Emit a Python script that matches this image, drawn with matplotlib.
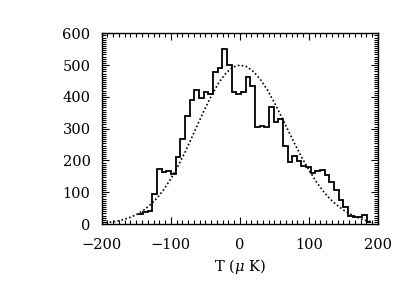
import numpy as np
import matplotlib
matplotlib.use("Agg")
import matplotlib.pyplot as plt
from matplotlib.ticker import AutoMinorLocator

# Histogram of temperatures (counts per bin)
bin_start = -147.0
bin_width = 6.75
counts = [30, 38, 42, 94, 172, 165, 168, 157, 210, 269,
          340, 389, 421, 397, 415, 409, 477, 492, 550, 501,
          414, 408, 416, 463, 435, 306, 308, 306, 369, 320,
          330, 245, 196, 213, 198, 184, 180, 159, 166, 169,
          153, 133, 107, 75, 54, 25, 23, 22, 27, 5]

# Dotted Gaussian curve
curve_T = [-200, -190, -180, -170, -160, -150, -140, -130, -120, -110,
           -100, -90, -80, -70, -60, -50, -40, -30, -20, -10,
           0, 10, 20, 30, 40, 50, 60, 70, 80, 90,
           100, 110, 120, 130, 140, 150, 160, 170, 180, 190]
curve_N = [3, 5, 8, 13, 20, 29, 42, 60, 81, 109,
           142, 180, 223, 270, 318, 365, 409, 446, 475, 494,
           500, 495, 479, 454, 421, 382, 339, 294, 250, 208,
           170, 135, 105, 80, 60, 44, 31, 21, 12, 7]

xticks = [-200, -100, 0, 100, 200]
yticks = [0, 100, 200, 300, 400, 500, 600]

plt.rcParams['font.family'] = ['DejaVu Serif']
plt.rcParams['mathtext.fontset'] = 'dejavuserif'

fig = plt.figure(figsize=(4.09, 2.92), dpi=100)
ax = fig.add_axes([101.7/409, 1-224/292, (378-101.7)/409, (224-33.3)/292])

edges = bin_start + bin_width*np.arange(len(counts)+1)
ax.stairs(counts, edges, baseline=None, color='black', linewidth=1.3)
ax.plot(curve_T, curve_N, color='black', linestyle=(0, (1, 1.4)), linewidth=1.2)

ax.set_xlim(-200, 200)
ax.set_ylim(0, 600)
ax.set_xticks(xticks)
ax.set_yticks(yticks)
ax.set_xticklabels([f"\u2212{abs(v)}" if v < 0 else str(v) for v in xticks])
ax.xaxis.set_minor_locator(AutoMinorLocator(12))
ax.yaxis.set_minor_locator(AutoMinorLocator(15))
ax.tick_params(which='both', direction='in', top=True, right=True, labelsize=10.5, width=0.8)
ax.tick_params(which='major', length=5)
ax.tick_params(which='minor', length=2.8)
ax.tick_params(axis='x', pad=10)
ax.tick_params(axis='y', pad=8)
for s in ax.spines.values():
    s.set_linewidth(1.0)
ax.set_xlabel(r"T ($\mu$ K)", fontsize=10.5, labelpad=4)

fig.savefig("out.png", dpi=100)
